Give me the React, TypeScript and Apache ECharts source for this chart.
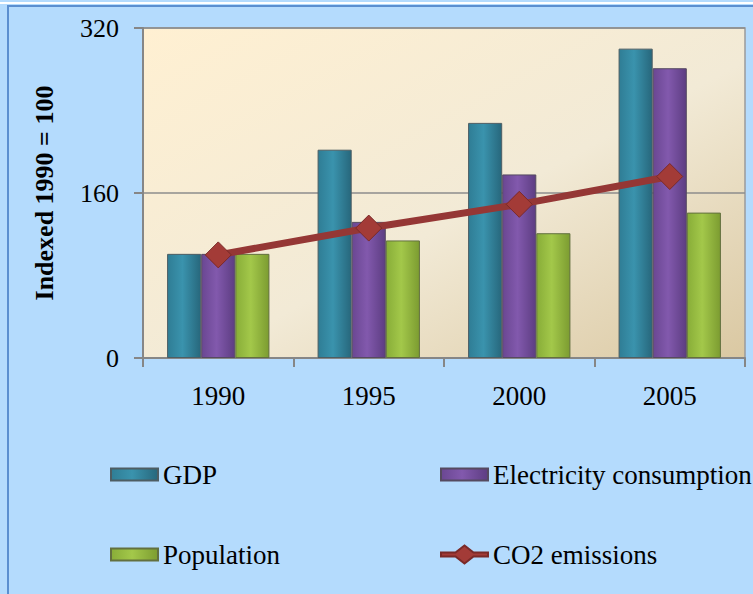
import React, { useEffect, useRef } from "react";
import * as echarts from "echarts";

const years = ["1990", "1995", "2000", "2005"];
const gdp = [101, 202, 228, 300];
const electricity = [101, 132, 178, 281];
const population = [101, 114, 121, 141];
const co2 = [100, 126, 149, 176];
const yTicks = [0, 160, 320];

const serif = "'Liberation Serif', 'DejaVu Serif', serif";

function hGrad(edge: string, mid: string, edge2: string) {
  return new echarts.graphic.LinearGradient(0, 0, 1, 0, [
    { offset: 0, color: edge },
    { offset: 0.45, color: mid },
    { offset: 1, color: edge2 },
  ]);
}

const co2Icon =
  "path://M0,7 L14.5,7 L23.5,0 L32.5,7 L47,7 L47,11 L32.5,11 L23.5,18 L14.5,11 L0,11 Z";

export default function App() {
  const ref = useRef<HTMLDivElement>(null);
  useEffect(() => {
    if (!ref.current) return;
    const chart = echarts.init(ref.current, undefined, { renderer: "svg" });
    const barCommon = {
      type: "bar",
      barGap: "0%",
      barCategoryGap: "32%",
    };
    const legendText = { fontFamily: serif, fontSize: 27, color: "#000" };
    const mkLegend = (name: string, left: number, top: number, extra: any = {}) => ({
      left,
      top,
      icon: "rect",
      itemWidth: 47,
      itemHeight: 12,
      itemGap: 0,
      padding: 0,
      data: [name],
      textStyle: legendText,
      ...extra,
    });
    chart.setOption({
      animation: false,
      backgroundColor: "#b4dbfd",
      textStyle: { fontFamily: serif },
      graphic: [
        { type: "rect", shape: { x: 0, y: 2, width: 753, height: 2 }, style: { fill: "#ffffff" }, silent: true },
        { type: "rect", shape: { x: 7, y: 5, width: 746, height: 2 }, style: { fill: "#5b8fd0" }, silent: true },
        { type: "rect", shape: { x: 7, y: 5, width: 2, height: 589 }, style: { fill: "#5b8fd0" }, silent: true },
      ],
      grid: {
        left: 143,
        right: 8,
        top: 28,
        bottom: 236,
        show: true,
        borderColor: "#9a9a9a",
        borderWidth: 1.5,
        backgroundColor: new echarts.graphic.LinearGradient(0, 0, 1, 1, [
          { offset: 0, color: "#fff0d2" },
          { offset: 0.55, color: "#f2ead6" },
          { offset: 1, color: "#dac8a2" },
        ]),
      },
      legend: [
        mkLegend("GDP", 110, 461),
        mkLegend("Population", 110, 541),
        mkLegend("Electricity consumption", 440, 461),
        mkLegend("CO2 emissions", 440, 541, { itemHeight: 18, icon: co2Icon }),
      ],
      xAxis: {
        type: "category",
        data: years,
        axisLine: { lineStyle: { color: "#868686", width: 2 } },
        axisTick: { show: true, length: 9, lineStyle: { color: "#868686", width: 2 } },
        axisLabel: { fontFamily: serif, fontSize: 27, color: "#000", margin: 24 },
      },
      yAxis: {
        type: "value",
        min: yTicks[0],
        max: yTicks[2],
        interval: yTicks[1] - yTicks[0],
        name: "Indexed 1990 = 100",
        nameLocation: "middle",
        nameRotate: 90,
        nameGap: 86,
        nameTextStyle: { fontFamily: serif, fontSize: 26, fontWeight: "bold", color: "#000" },
        axisLine: { show: true, lineStyle: { color: "#868686", width: 2 } },
        axisTick: { show: true, length: 9, lineStyle: { color: "#868686", width: 2 } },
        axisLabel: { fontFamily: serif, fontSize: 26, color: "#000", margin: 24 },
        splitLine: { show: true, lineStyle: { color: "#8c8c8c", width: 1.5 } },
      },
      series: [
        {
          ...barCommon,
          name: "GDP",
          data: gdp,
          itemStyle: {
            color: hGrad("#2f7d95", "#3a93ad", "#27677c"),
            borderColor: "#4d5d63",
            borderWidth: 1,
          },
        },
        {
          ...barCommon,
          name: "Electricity consumption",
          data: electricity,
          itemStyle: {
            color: hGrad("#6a4792", "#8259ad", "#5d3d82"),
            borderColor: "#554a60",
            borderWidth: 1,
          },
        },
        {
          ...barCommon,
          name: "Population",
          data: population,
          itemStyle: {
            color: hGrad("#88ad38", "#a3c84a", "#7c9c31"),
            borderColor: "#62703f",
            borderWidth: 1,
          },
        },
        {
          type: "line",
          name: "CO2 emissions",
          data: co2,
          symbol: "diamond",
          symbolSize: 26,
          lineStyle: { color: "#953735", width: 7 },
          itemStyle: { color: "#a33b37", borderColor: "#7a2a28", borderWidth: 1 },
          z: 5,
        },
      ],
    });
    return () => chart.dispose();
  }, []);
  return (
    <div style={{ position: "fixed", left: 0, top: 0, width: 753, height: 594 }}>
      <div ref={ref} style={{ width: 753, height: 594 }} />
    </div>
  );
}
